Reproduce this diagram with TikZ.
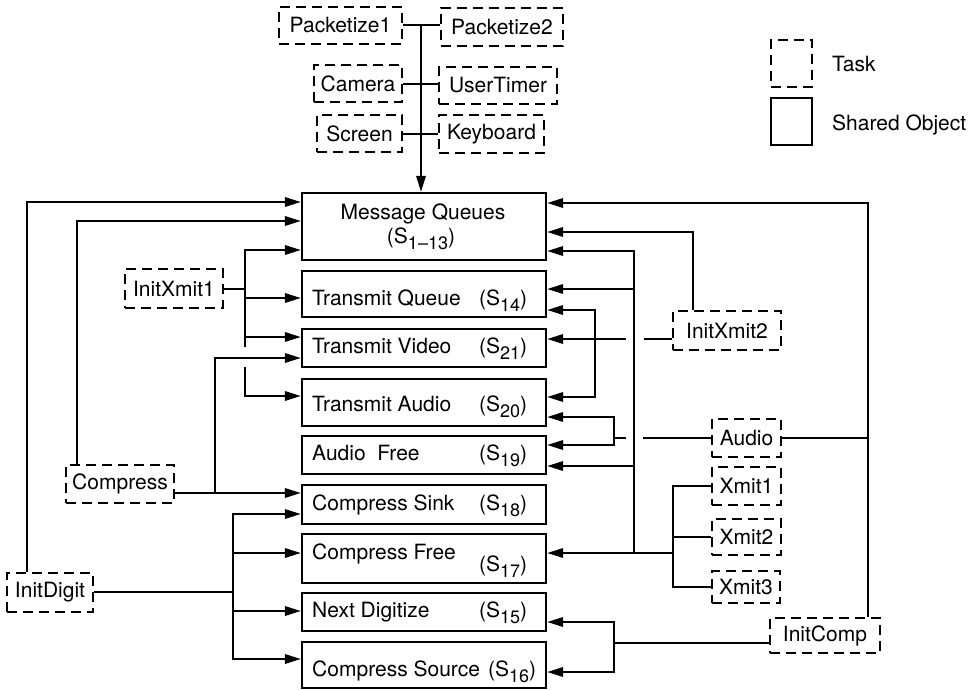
\documentclass[tikz,border=0pt]{standalone}
\usepackage{fontspec}
\setmainfont{TeX Gyre Heros}
\usetikzlibrary{arrows.meta}
\newcommand{\subn}[1]{\raisebox{-6.5pt}{\fontsize{18}{18}\selectfont #1}}
\begin{document}
\begin{tikzpicture}[x=1pt,y=-1pt,font=\fontsize{21}{24}\selectfont,
  task/.style={draw,line width=2.1pt,dash pattern=on 10pt off 6pt,inner sep=0pt},
  obj/.style={draw,line width=2.4pt,inner sep=0pt,minimum width=244pt},
  con/.style={line width=2pt},
  arr/.style={con,-{Triangle[length=16pt,width=9.5pt]}},
  arrboth/.style={con,{Triangle[length=16pt,width=9.5pt]}-{Triangle[length=16pt,width=9.5pt]}},
  lbl/.style={anchor=base west,inner sep=0pt},
  clbl/.style={anchor=base,inner sep=0pt}]
\useasboundingbox (0,0) rectangle (976,690);

% tasks
\node[task,minimum width=123pt,minimum height=37pt] (P1) at (340.5,25.5) {Packetize1};
\node[task,minimum width=122pt,minimum height=38pt] (P2) at (502,27) {Packetize2};
\node[task,minimum width=88pt,minimum height=37pt] (Cam) at (358,83.5) {Camera};
\node[task,minimum width=118pt,minimum height=37pt] (UT) at (498,85.5) {UserTimer};
\node[task,minimum width=85pt,minimum height=37pt] (Scr) at (359.5,133.5) {Screen};
\node[task,minimum width=105pt,minimum height=38pt] (KB) at (491.5,134) {Keyboard};
\node[task,minimum width=98pt,minimum height=39pt] (IX1) at (174,288.5) {InitXmit1};
\node[task,minimum width=108pt,minimum height=38pt] (Comp) at (120,484) {Compress};
\node[task,minimum width=86pt,minimum height=39pt] (ID) at (50,592.5) {InitDigit};
\node[task,minimum width=108pt,minimum height=39pt] (IX2) at (727,330.5) {InitXmit2};
\node[task,minimum width=69pt,minimum height=38pt] (Aud) at (746.5,438) {Audio};
\node[task,minimum width=69pt,minimum height=38pt] (X1) at (746.5,486) {Xmit1};
\node[task,minimum width=69pt,minimum height=36pt] (X2) at (746.5,537) {Xmit2};
\node[task,minimum width=68pt,minimum height=32pt] (X3) at (746,587) {Xmit3};
\node[task,minimum width=110pt,minimum height=35pt] (IC) at (825,635.5) {InitComp};

% legend
\node[task,minimum width=41pt,minimum height=47pt] (LegT) at (791.5,63.5) {};
\node[obj,minimum width=41pt,minimum height=47pt] (LegO) at (791.5,121.5) {};
\node[lbl] (LegTt) at (832,72) {Task};
\node[lbl] (LegOt) at (832,130) {Shared Object};

% shared objects
\node[obj,minimum height=67pt] (MQ) at (424,226.5) {};
\node[obj,minimum height=46pt] (TQ) at (424,294) {};
\node[obj,minimum height=38pt] (TV) at (424,348) {};
\node[obj,minimum height=47pt] (TA) at (424,402.5) {};
\node[obj,minimum height=38pt] (AF) at (424,455) {};
\node[obj,minimum height=39pt] (CS) at (424,504.5) {};
\node[obj,minimum height=49pt] (CF) at (424,558.5) {};
\node[obj,minimum height=38pt] (ND) at (424,612) {};
\node[obj,minimum height=46pt] (CSr) at (424,665) {};

\node[clbl] (tMQa) at (423,219) {Message Queues};
\node[clbl] (tMQb) at (421,243) {(S\subn{1\textendash13})};
\node[lbl] (tTQa) at (312,305) {Transmit Queue};
\node[lbl] (tTQb) at (479,305) {(S\subn{14})};
\node[lbl] (tTVa) at (312,353) {Transmit Video};
\node[lbl] (tTVb) at (479,353) {(S\subn{21})};
\node[lbl] (tTAa) at (312,411) {Transmit Audio};
\node[lbl] (tTAb) at (479,411) {(S\subn{20})};
\node[lbl] (tAFa) at (312,460) {Audio\ \ Free};
\node[lbl] (tAFb) at (479,460) {(S\subn{19})};
\node[lbl] (tCSa) at (312,510) {Compress Sink};
\node[lbl] (tCSb) at (479,510) {(S\subn{18})};
\node[lbl] (tCFa) at (312,559) {Compress Free};
\node[lbl] (tCFb) at (479,571) {(S\subn{17})};
\node[lbl] (tNDa) at (312,617) {Next Digitize};
\node[lbl] (tNDb) at (479,617) {(S\subn{15})};
\node[lbl] (tCSra) at (312,676) {Compress Source};
\node[lbl] (tCSrb) at (488,676) {(S\subn{16})};

% top connectors
\draw[con] (P1.east |- 0,25) -- (P2.west |- 0,25);
\draw[con] (Cam.east |- 0,84) -- (UT.west |- 0,84);
\draw[con] (Scr.east |- 0,134) -- (KB.west |- 0,134);
\draw[arr] (421,25) -- (MQ.north -| 421,0);

% left connectors
\draw[arr] (ID.north -| 27,0) -- (27,202) -- (MQ.west |- 0,202);
\draw[arr] (Comp.north -| 77,0) -- (77,221) -- (MQ.west |- 0,221);
\draw[con] (IX1.east) -- (IX1.east -| 245,0);
\draw[arr] (245,347) -- (245,250) -- (MQ.west |- 0,250);
\draw[arr] (245,298) -- (TQ.west |- 0,298);
\draw[arr] (245,337) -- (TV.west |- 0,337);
\draw[arr] (245,367) -- (245,396) -- (TA.west |- 0,396);
\draw[arr] (Comp.east |- 0,493) -- (CS.west |- 0,493);
\draw[arr] (215,493) -- (215,358) -- (TV.west |- 0,358);
\draw[con] (ID.east |- 0,592) -- (233,592);
\draw[arr] (233,592) -- (233,514) -- (CS.west |- 0,514);
\draw[arr] (233,592) -- (233,659) -- (CSr.west |- 0,659);
\draw[arr] (233,553) -- (CF.west |- 0,553);
\draw[arr] (233,611) -- (ND.west |- 0,611);

% right connectors
\draw[arr] (IC.north -| 868,0) -- (868,203) -- (MQ.east |- 0,203);
\draw[con] (Aud.east |- 0,438) -- (868,438);
\draw[arr] (IX2.north -| 693,0) -- (693,232) -- (MQ.east |- 0,232);
\draw[con] (IX2.west |- 0,339) -- (644,339);
\draw[arr] (626,339) -- (TV.east |- 0,339);
\draw[con] (X1.west) -- (X1.west -| 673,0) -- (X3.west -| 673,0) -- (X3.west);
\draw[con] (X2.west) -- (X2.west -| 673,0);
\draw[arr] (673,553) -- (CF.east |- 0,553);
\draw[arr] (634,553) -- (634,251) -- (MQ.east |- 0,251);
\draw[arr] (634,289) -- (TQ.east |- 0,289);
\draw[arr] (634,466) -- (AF.east |- 0,466);
\draw[arrboth] (TQ.east |- 0,310) -- (595,310) -- (595,397) -- (TA.east |- 0,397);
\draw[con] (Aud.west |- 0,438) -- (643,438);
\draw[con] (626,438) -- (614,438);
\draw[arrboth] (TA.east |- 0,417) -- (614,417) -- (614,445) -- (AF.east |- 0,445);
\draw[con] (IC.west |- 0,643) -- (614,643);
\draw[arrboth] (ND.east |- 0,622) -- (614,622) -- (614,672) -- (CSr.east |- 0,672);
\end{tikzpicture}
\end{document}
